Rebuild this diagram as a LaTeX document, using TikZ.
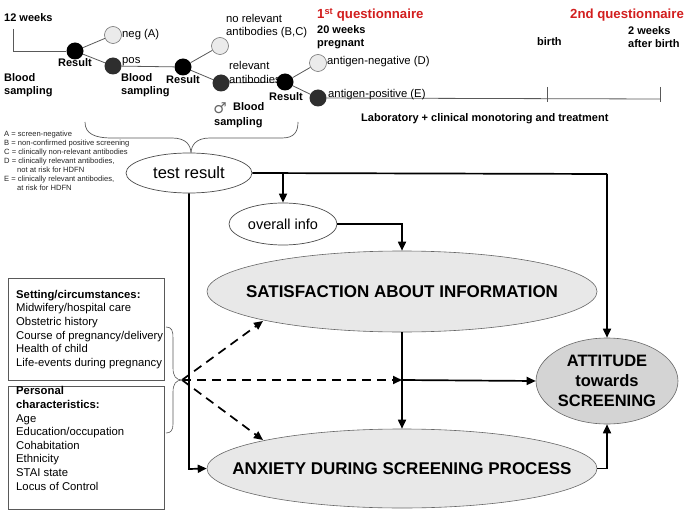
\documentclass[tikz,border=0pt]{standalone}
\usepackage{fontspec}
\setmainfont{Liberation Sans}
\newfontfamily\symfont{DejaVu Sans}
\usetikzlibrary{arrows.meta,shapes.geometric,calc}
\definecolor{qred}{RGB}{210,30,30}
\tikzset{
  tl/.style={draw=black!65, line width=0.8pt},
  res/.style={circle, fill=black, minimum size=17pt, inner sep=0pt},
  dcirc/.style={circle, fill=black!82, minimum size=17pt, inner sep=0pt},
  lcirc/.style={circle, draw=black!55, fill=black!8, line width=0.6pt, minimum size=17pt, inner sep=0pt},
  bt/.style={font=\fontsize{11}{13}\selectfont\bfseries, inner sep=0pt, align=left},
  rt/.style={font=\fontsize{11.3}{13.5}\selectfont, inner sep=0pt, align=left},
  qt/.style={font=\fontsize{13.2}{15}\selectfont\bfseries, text=qred, inner sep=0pt, anchor=west},
  big/.style={ellipse, draw=black!60, line width=0.6pt, fill=black!9, font=\fontsize{17}{20}\selectfont\bfseries, inner sep=0pt},
  smallell/.style={ellipse, draw=black!70, line width=0.7pt, fill=white, inner sep=0pt},
  arr/.style={line width=1.7pt, -{Triangle[length=9pt,width=8pt]}},
  dsh/.style={line width=1.7pt, dash pattern=on 9pt off 6pt, -{Triangle[length=9pt,width=8pt]}},
  boxt/.style={draw=black!65, line width=0.7pt, minimum width=156pt, anchor=north west, inner sep=0pt},
  btxt/.style={font=\fontsize{11.3}{13.6}\selectfont, align=left, anchor=north west, inner sep=0pt},
}
\newcommand{\zw}[1]{\makebox[0pt]{#1}}
\begin{document}
\begin{tikzpicture}[x=1pt,y=-1pt]
\useasboundingbox (0,0) rectangle (685,513);

% ---------- timeline ----------
\node[bt, anchor=west] (w12) at (4,18) {12 weeks};
\coordinate (w12a) at (13,29);
\node[res] (r1) at (75,51) {};
\node[lcirc] (neg) at (113,35) {};
\node[dcirc] (pos) at (113,66) {};
\node[res] (r2) at (183,67) {};
\node[lcirc] (nrel) at (220,46) {};
\node[dcirc] (rel) at (221,83) {};
\node[res] (r3) at (285,82) {};
\node[lcirc] (aneg) at (318,63) {};
\node[dcirc] (apos) at (318,98) {};
\coordinate (tend) at (660,99);
\coordinate (tbirth) at (547,99);

\draw[tl] (w12a) |- (r1);
\draw[tl] (r1) -- (neg);
\draw[tl] (r1) -- (pos);
\draw[tl] (pos) -- (r2);
\draw[tl] (r2) -- (nrel);
\draw[tl] (r2) -- (rel);
\draw[tl] (rel) -- (r3);
\draw[tl] (r3) -- (aneg);
\draw[tl] (r3) -- (apos);
\draw[tl] (apos) -- (tend);
\draw[tl] ($(tbirth)+(0,-12)$) -- ($(tbirth)+(0,3)$);
\draw[tl] ($(tend)+(0,-12)$) -- ($(tend)+(0,3)$);

\node[bt] (lr1) at (75,63) {Result};
\node[bt] (lr2) at (183,80) {Result};
\node[bt] (lr3) at (286,97) {Result};
\node[rt, anchor=west] (lneg) at (122,35) {neg (A)};
\node[rt, anchor=west] (lpos) at (122,62) {pos};
\node[bt, anchor=west] (bs1) at (4,85.5) {Blood\\sampling};
\node[bt, anchor=west] (bs2) at (121,85.5) {Blood\\sampling};
\node[rt, anchor=west] (lnrel) at (226,26) {no relevant\\antibodies (B,C)};
\node[rt, anchor=west] (lrel) at (229,72.5) {relevant\\antibodies};
\node[text=black!60, inner sep=0pt, font=\symfont\fontsize{15}{15}\selectfont] (male) at (220,108) {♂};
\node[bt, anchor=west] (bs3a) at (233,107) {Blood};
\node[bt, anchor=west] (bs3b) at (214,123) {sampling};
\node[rt, anchor=west] (laneg) at (327,62) {antigen-negative (D)};
\node[rt, anchor=west] (lapos) at (328,95) {antigen-positive (E)};
\node[qt] (q1) at (317,15) {1\textsuperscript{st} questionnaire};
\node[bt, anchor=west] (w20) at (317,37.5) {20 weeks\\pregnant};
\node[bt, anchor=west] (lbirth) at (537,42) {birth};
\node[qt] (q2) at (570,15) {2nd questionnaire};
\node[bt, anchor=west] (w2) at (628,37.5) {2 weeks\\after birth};
\node[bt, anchor=west] (lab) at (361,119) {Laboratory + clinical monotoring and treatment};

% brace
\coordinate (brl) at (85,122);
\coordinate (brt) at (191,154);
\coordinate (brr) at (298,122);
\draw[draw=black!65, line width=0.7pt]
  (brl) .. controls (85,134) and (95,138) .. (112,138) -- (172,138)
  .. controls (186,138) and (191,145) .. (brt)
  .. controls (191,145) and (196,138) .. (210,138) -- (282,138)
  .. controls (294,138) and (298,132) .. (brr);

% legend
\node[inner sep=0pt, anchor=north west, align=left, text=black!85,
      font=\fontsize{7.6}{9}\selectfont] (legend) at (4,130.5)
 {A = screen-negative\\
  B = non-confirmed positive screening\\
  C = clinically non-relevant antibodies\\
  D = clinically relevant antibodies,\\
  \hspace{13pt}not at risk for HDFN\\
  E = clinically relevant antibodies,\\
  \hspace{13pt}at risk for HDFN};

% ---------- model ----------
\node[smallell, minimum width=126pt, minimum height=40pt, font=\fontsize{16.5}{18}\selectfont] (test) at (189,173) {\zw{test result}};
\node[smallell, minimum width=108pt, minimum height=42pt, font=\fontsize{14.5}{16}\selectfont] (info) at (283,224) {\zw{overall info}};
\node[big, minimum width=390pt, minimum height=81pt] (sat) at (402,291.5) {\zw{SATISFACTION ABOUT INFORMATION}};
\node[big, minimum width=390pt, minimum height=79pt] (anx) at (402,468.5) {\zw{ANXIETY DURING SCREENING PROCESS}};
\node[big, fill=black!17, minimum width=142pt, minimum height=86pt, align=center,
      font=\fontsize{16.5}{20}\selectfont\bfseries] (att) at (607,381) {\zw{ATTITUDE}\\\zw{towards}\\\zw{SCREENING}};

\coordinate (hub) at (182,380);
\coordinate (mid) at (402,380);
\coordinate (tr) at (607,174);
\coordinate (ti) at (283,174);
\coordinate (tl) at (189,469);

\draw[line width=1.7pt] (test.east) -- (tr);
\draw[arr] (tr) -- (att.north);
\draw[arr] (ti) -- (info.north);
\draw[arr] (info.east) -| (sat.north);
\draw[arr] (test.south) -- (tl) -- (anx.west);
\draw[arr] (sat.south) -- (anx.north);
\draw[arr] (mid) -- (att.west);
\draw[dsh] (hub) -- (mid);
\draw[dsh] (hub) -- (263,321);
\draw[dsh] (hub) -- (263,440);
\draw[arr] (anx.east) -| (att.south);

% boxes
\node[boxt, minimum height=102pt] (set) at (8,278) {};
\node[btxt] (settxt) at (16,290) {\textbf{Setting/circumstances:}\\Midwifery/hospital care\\Obstetric history\\Course of pregnancy/delivery\\Health of child\\Life-events during pregnancy};
\node[boxt, minimum height=123pt] (per) at (8,386) {};
\node[btxt] (pertxt) at (16,386.5) {\textbf{Personal}\\\textbf{characteristics:}\\Age\\Education/occupation\\Cohabitation\\Ethnicity\\STAI state\\Locus of Control};

% small braces
\draw[draw=black!65, line width=0.6pt]
  (166,327) .. controls (172,327) and (173,331) .. (173,338) -- (173,368)
  .. controls (173,376) and (176,380) .. (hub)
  .. controls (176,380) and (173,384) .. (173,392) -- (173,424)
  .. controls (173,430) and (171,433) .. (166,433);
\end{tikzpicture}
\end{document}
